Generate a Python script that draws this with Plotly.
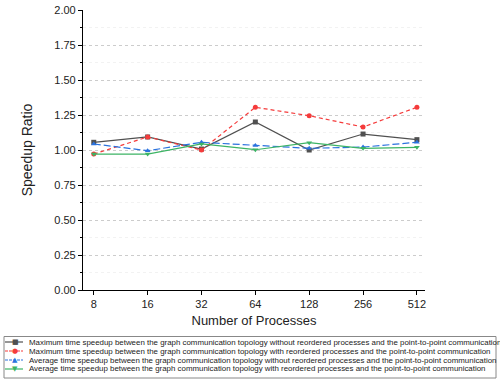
import plotly.graph_objects as go

processes = ["8", "16", "32", "64", "128", "256", "512"]

max_no_reorder = [1.055, 1.093, 1.007, 1.20, 1.00, 1.114, 1.074]
max_reorder = [0.971, 1.093, 1.00, 1.305, 1.245, 1.164, 1.305]
avg_no_reorder = [1.043, 0.995, 1.055, 1.033, 1.012, 1.021, 1.055]
avg_reorder = [0.971, 0.971, 1.043, 1.002, 1.052, 1.012, 1.019]

names = [
    "Maximum time speedup between the graph communication topology without reordered processes and the point-to-point communication",
    "Maximum time speedup between the graph communication topology with reordered processes and the point-to-point communication",
    "Average time speedup between the graph communication topology without reordered processes and the point-to-point communication",
    "Average time speedup between the graph communication topology with reordered processes and the point-to-point communication",
]

# colour, dash, marker symbol, legend glyph
styles = [
    ("#505050", "solid", "square", "■"),
    ("#f53b3b", "4px,3px", "circle", "●"),
    ("#2a72de", "7px,3px", "triangle-up", "▲"),
    ("#3cb464", "solid", "triangle-down", "▼"),
]

fig = go.Figure()
for vals, name, (color, dash, symbol, _) in zip(
        [max_no_reorder, max_reorder, avg_no_reorder, avg_reorder], names, styles):
    fig.add_trace(go.Scatter(
        x=processes, y=vals, name=name, mode="lines+markers",
        line=dict(color=color, width=1.2, dash=dash),
        marker=dict(color=color, symbol=symbol, size=5),
    ))

# hand-built legend box below the plot (plotly's own legend rows are too tall)
L, T, W, H = 83, 10, 342, 280


def px_x(p):
    return (p - L) / W


def px_y(p):
    return (T + H - p) / H


fig.add_shape(type="rect", xref="paper", yref="paper",
              x0=px_x(4), x1=px_x(496), y0=px_y(378), y1=px_y(336.5),
              line=dict(color="#888888", width=1), fillcolor="white")
for i, (name, (color, dash, symbol, glyph)) in enumerate(zip(names, styles)):
    row = 342 + i * 9
    fig.add_shape(type="line", xref="paper", yref="paper",
                  x0=px_x(5), x1=px_x(23), y0=px_y(row), y1=px_y(row),
                  line=dict(color=color, width=1.2,
                            dash="3px,1px" if dash != "solid" else "solid"))
    fig.add_annotation(x=px_x(15), y=px_y(row), xref="paper", yref="paper",
                       text=glyph, showarrow=False, xanchor="center", yanchor="middle",
                       font=dict(size=7, color=color, family="DejaVu Sans"))
    fig.add_annotation(x=px_x(26.5), y=px_y(row), xref="paper", yref="paper",
                       text=name, showarrow=False, xanchor="left", yanchor="middle",
                       font=dict(size=7.9, color="#222222"))

fig.update_layout(
    width=500, height=383,
    margin=dict(l=L, r=500 - L - W, t=T, b=383 - T - H),
    plot_bgcolor="white", paper_bgcolor="white",
    showlegend=False,
    font=dict(family="Liberation Sans, Arial, sans-serif", color="#222222"),
    xaxis=dict(
        type="category", range=[-0.2, 6.15], automargin=False,
        title=dict(text="Number of Processes", font=dict(size=13), standoff=6),
        tickfont=dict(size=11),
        showline=True, linecolor="black", linewidth=1.2,
        ticks="outside", ticklen=4, tickcolor="black",
        showgrid=False, zeroline=False,
    ),
    yaxis=dict(
        range=[0, 2.0], dtick=0.25, tickformat=".2f", automargin=False,
        title=dict(text="Speedup Ratio", font=dict(size=14), standoff=18),
        tickfont=dict(size=11),
        showline=True, linecolor="black", linewidth=1.2,
        ticks="outside", ticklen=4, tickcolor="black",
        showgrid=True, gridcolor="#cccccc", griddash="dot", gridwidth=0.8,
        zeroline=False,
        minor=dict(dtick=0.125, ticks="outside", ticklen=2, tickcolor="black",
                   showgrid=True, gridcolor="#f2f2f2", gridwidth=0.8),
    ),
)

# drop the browser's default body margin so the figure sits at the page corner
fig.write_html("out.html", config={"displayModeBar": False},
               post_script="document.body.style.margin='0';")
